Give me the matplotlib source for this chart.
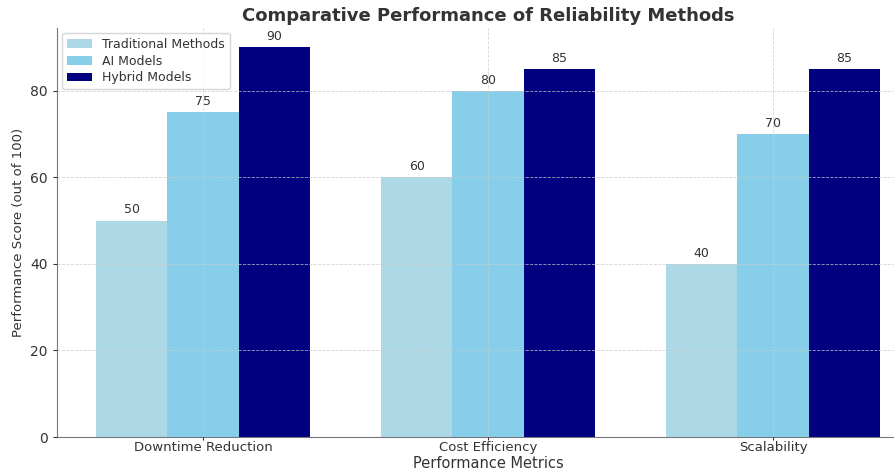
import numpy as np
import matplotlib.pyplot as plt

metrics = ["Downtime Reduction", "Cost Efficiency", "Scalability"]
traditional = [50, 60, 40]
ai_models = [75, 80, 70]
hybrid = [90, 85, 85]

series = [
    ("Traditional Methods", traditional, "lightblue"),
    ("AI Models", ai_models, "skyblue"),
    ("Hybrid Models", hybrid, "navy"),
]

plt.rcParams['text.color'] = '#333333'
plt.rcParams['axes.labelcolor'] = '#333333'
plt.rcParams['xtick.color'] = '#333333'
plt.rcParams['ytick.color'] = '#333333'

fig = plt.figure(figsize=(8.94, 4.73), dpi=100)
# axes run a little past the right edge of the canvas
ax = fig.add_axes([57 / 894, 36 / 473, 862 / 894, 409 / 473])

x = np.arange(len(metrics))
width = 0.25
for i, (name, vals, color) in enumerate(series):
    bars = ax.bar(x + (i - 1) * width, vals, width, label=name, color=color)
    ax.bar_label(bars, labels=[str(v) for v in vals], padding=3, fontsize=9)

ax.set_xticks(x)
ax.set_xticklabels(metrics, fontsize=9.5)
ax.tick_params(axis='x', length=2, pad=1)
ax.tick_params(axis='y', labelsize=10, length=3)
ax.set_xlabel("Performance Metrics", fontsize=10.5, labelpad=1)
ax.set_ylabel("Performance Score (out of 100)", fontsize=9.5)
ax.set_title("Comparative Performance of Reliability Methods",
             fontsize=13, fontweight='bold', pad=5)

ax.grid(True, linestyle='--', linewidth=0.6, color='#cccccc', alpha=0.8)
ax.set_axisbelow(False)
for s in ('top', 'right'):
    ax.spines[s].set_visible(False)
for s in ('left', 'bottom'):
    ax.spines[s].set_color('#777777')

ax.legend(loc='upper left', fontsize=9, framealpha=0.8, labelspacing=0.3,
          borderaxespad=0.4)

fig.savefig("out.png", dpi=100)
